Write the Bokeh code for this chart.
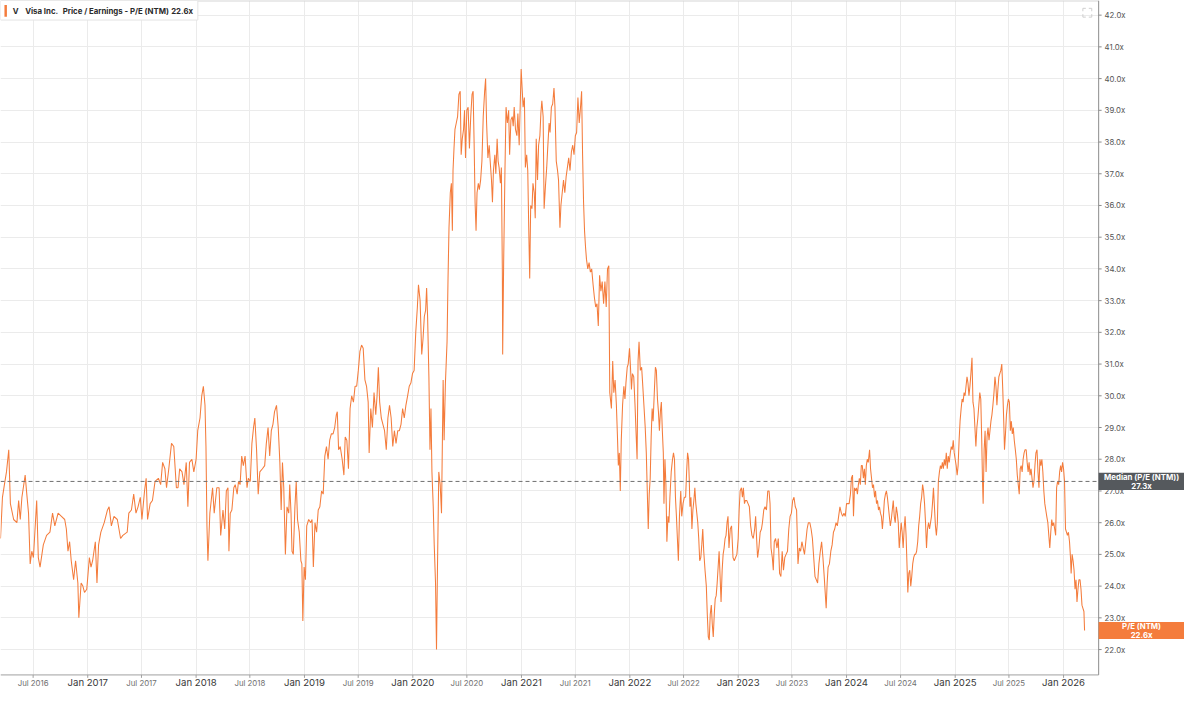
from datetime import datetime
from bokeh.plotting import figure
from bokeh.models import Range1d, FixedTicker, Grid
from bokeh.core.properties import value
from bokeh.embed import file_html
from bokeh.resources import INLINE

# ---------------- data (decimal year, P/E NTM) ----------------
pe_2016_2018 = [
    (2016.197, 25.5), (2016.215, 26.8), (2016.233, 27.2), (2016.252, 27.6), (2016.273, 28.3),
    (2016.288, 26.6), (2016.318, 26.1), (2016.348, 26.0), (2016.364, 26.7), (2016.379, 26.1),
    (2016.394, 26.8), (2016.424, 27.5), (2016.439, 26.9), (2016.455, 26.3), (2016.470, 24.7),
    (2016.485, 25.1), (2016.500, 24.9), (2016.530, 26.7), (2016.545, 24.9), (2016.561, 24.6),
    (2016.591, 25.3), (2016.621, 25.6), (2016.652, 25.7), (2016.676, 26.3), (2016.697, 25.9),
    (2016.727, 26.3), (2016.758, 26.2), (2016.788, 26.1), (2016.803, 25.8), (2016.818, 25.1),
    (2016.833, 25.4), (2016.848, 24.8), (2016.870, 24.2), (2016.888, 24.8), (2016.909, 24.1),
    (2016.918, 23.0), (2016.939, 24.1), (2016.955, 24.0), (2016.970, 23.8), (2016.991, 23.9),
    (2017.015, 24.9), (2017.030, 24.6), (2017.045, 24.8), (2017.070, 25.4), (2017.085, 24.1),
    (2017.100, 25.3), (2017.121, 25.7), (2017.152, 26.0), (2017.182, 26.4), (2017.197, 26.5),
    (2017.218, 25.9), (2017.242, 26.2), (2017.273, 26.1), (2017.303, 25.5), (2017.324, 25.6),
    (2017.364, 25.7), (2017.379, 26.3), (2017.403, 26.4), (2017.424, 26.9), (2017.445, 26.3),
    (2017.464, 26.5), (2017.485, 26.8), (2017.500, 26.1), (2017.524, 27.0), (2017.539, 27.4),
    (2017.552, 26.1), (2017.576, 26.6), (2017.597, 26.7), (2017.621, 27.3), (2017.652, 27.4),
    (2017.673, 27.2), (2017.691, 27.9), (2017.712, 27.7), (2017.727, 27.1), (2017.748, 27.7),
    (2017.773, 28.5), (2017.794, 28.4), (2017.818, 27.1), (2017.833, 27.1), (2017.848, 27.7),
    (2017.870, 27.6), (2017.888, 27.2), (2017.909, 27.9), (2017.924, 26.5), (2017.939, 27.9),
    (2017.961, 28.0), (2017.979, 27.6), (2018.000, 28.0), (2018.015, 28.9), (2018.036, 29.3),
    (2018.052, 30.0), (2018.067, 30.3), (2018.082, 29.7), (2018.091, 28.4), (2018.100, 25.9),
    (2018.109, 24.8), (2018.127, 26.3), (2018.152, 27.1), (2018.167, 26.3), (2018.191, 27.1),
    (2018.212, 27.1), (2018.227, 25.6),
]

pe_2018_2020 = [
    (2018.248, 26.4), (2018.264, 25.8), (2018.279, 27.0), (2018.294, 27.1), (2018.303, 25.1),
    (2018.315, 26.3), (2018.330, 26.4), (2018.348, 27.1), (2018.361, 27.2), (2018.379, 26.9),
    (2018.391, 27.3), (2018.406, 27.2), (2018.421, 28.1), (2018.436, 27.8), (2018.452, 28.1),
    (2018.470, 27.1), (2018.482, 27.4), (2018.500, 27.3), (2018.515, 28.5), (2018.530, 29.0),
    (2018.542, 29.3), (2018.558, 28.3), (2018.573, 26.9), (2018.588, 27.6), (2018.612, 27.7),
    (2018.633, 27.8), (2018.648, 28.5), (2018.664, 29.0), (2018.679, 28.1), (2018.694, 28.9),
    (2018.709, 29.1), (2018.724, 29.5), (2018.742, 29.7), (2018.758, 29.0), (2018.773, 27.9),
    (2018.785, 26.4), (2018.797, 27.9), (2018.809, 27.1), (2018.824, 25.0), (2018.839, 26.5),
    (2018.855, 26.3), (2018.864, 27.2), (2018.876, 26.3), (2018.885, 25.1), (2018.897, 25.0),
    (2018.912, 26.5), (2018.924, 27.3), (2018.936, 26.1), (2018.952, 25.7), (2018.967, 24.8),
    (2018.976, 24.7), (2018.985, 22.9), (2018.997, 24.6), (2019.009, 24.2), (2019.021, 25.9),
    (2019.039, 26.1), (2019.058, 26.0), (2019.070, 26.1), (2019.082, 24.6), (2019.097, 26.0),
    (2019.112, 25.7), (2019.127, 26.4), (2019.142, 26.5), (2019.158, 27.0), (2019.173, 26.9),
    (2019.188, 28.1), (2019.203, 28.4), (2019.218, 28.0), (2019.233, 28.6), (2019.248, 28.8),
    (2019.264, 28.8), (2019.279, 29.0), (2019.294, 29.4), (2019.303, 29.5), (2019.315, 28.3),
    (2019.330, 28.4), (2019.348, 28.0), (2019.364, 27.5), (2019.376, 28.7), (2019.391, 28.6),
    (2019.406, 27.7), (2019.421, 29.6), (2019.436, 30.0), (2019.452, 29.8), (2019.467, 30.3),
    (2019.482, 30.3), (2019.497, 30.8), (2019.512, 31.4), (2019.527, 31.6), (2019.542, 31.5),
    (2019.558, 30.5), (2019.573, 30.3), (2019.588, 29.8), (2019.597, 28.2), (2019.612, 29.6),
    (2019.627, 29.0), (2019.642, 30.1), (2019.658, 29.4), (2019.670, 30.0), (2019.682, 30.9),
    (2019.694, 29.8), (2019.709, 29.3), (2019.724, 29.1), (2019.739, 28.9), (2019.755, 28.3),
    (2019.770, 29.3), (2019.785, 29.7), (2019.800, 29.3), (2019.815, 28.4), (2019.830, 28.9),
    (2019.845, 28.5), (2019.861, 28.9), (2019.876, 28.9), (2019.891, 29.1), (2019.906, 29.6),
    (2019.921, 29.3), (2019.936, 29.7), (2019.952, 30.0), (2019.967, 30.3), (2019.982, 30.4),
    (2019.997, 30.7), (2020.012, 30.8), (2020.027, 32.0), (2020.042, 32.8), (2020.052, 33.5),
    (2020.067, 33.0), (2020.082, 31.3), (2020.094, 31.8), (2020.106, 32.5), (2020.118, 32.7),
    (2020.127, 33.4), (2020.136, 32.5), (2020.148, 30.6), (2020.158, 28.3), (2020.167, 29.6),
    (2020.176, 27.6), (2020.188, 26.5), (2020.197, 25.3), (2020.209, 24.1), (2020.218, 22.0),
    (2020.227, 24.6), (2020.239, 27.6), (2020.252, 27.2), (2020.264, 26.3), (2020.279, 30.5),
]

pe_2020_2021 = [
    (2020.288, 28.6), (2020.300, 30.4), (2020.315, 31.7), (2020.324, 33.7), (2020.333, 35.3),
    (2020.345, 36.4), (2020.355, 36.7), (2020.364, 35.2), (2020.370, 37.1), (2020.379, 37.8),
    (2020.388, 38.4), (2020.400, 38.6), (2020.412, 38.8), (2020.424, 39.5), (2020.436, 39.6),
    (2020.445, 37.6), (2020.455, 38.1), (2020.467, 38.4), (2020.476, 39.0), (2020.485, 37.5),
    (2020.497, 39.0), (2020.509, 39.1), (2020.521, 37.8), (2020.533, 38.8), (2020.545, 39.5),
    (2020.555, 39.6), (2020.564, 38.0), (2020.573, 36.1), (2020.582, 35.2), (2020.591, 36.4),
    (2020.603, 36.7), (2020.612, 36.5), (2020.624, 36.8), (2020.636, 37.4), (2020.648, 38.8),
    (2020.661, 39.6), (2020.670, 40.0), (2020.679, 38.6), (2020.691, 37.5), (2020.703, 37.9),
    (2020.712, 37.4), (2020.724, 36.8), (2020.733, 36.1), (2020.742, 37.1), (2020.755, 37.6),
    (2020.764, 37.0), (2020.776, 38.1), (2020.785, 37.4), (2020.794, 37.2), (2020.806, 36.7),
    (2020.815, 37.2), (2020.824, 33.9), (2020.827, 31.3), (2020.836, 34.2), (2020.848, 37.1),
    (2020.858, 39.1), (2020.870, 38.6), (2020.882, 39.0), (2020.891, 37.6), (2020.903, 38.7),
    (2020.915, 38.8), (2020.924, 38.5), (2020.933, 39.1), (2020.945, 38.4), (2020.958, 38.2),
    (2020.967, 38.9), (2020.979, 37.9), (2020.988, 39.1), (2020.997, 40.3), (2021.006, 39.7),
    (2021.015, 39.1), (2021.027, 39.4), (2021.036, 37.2), (2021.048, 37.6), (2021.058, 37.1),
    (2021.067, 35.3), (2021.076, 33.7), (2021.085, 36.0), (2021.097, 35.9), (2021.106, 36.7),
    (2021.118, 36.4), (2021.127, 35.6), (2021.136, 38.1), (2021.148, 36.8), (2021.158, 37.9),
    (2021.170, 38.2), (2021.179, 38.9), (2021.188, 39.3), (2021.200, 38.8), (2021.209, 35.9),
    (2021.221, 36.6), (2021.233, 37.2), (2021.242, 37.8), (2021.255, 38.6), (2021.264, 38.3),
    (2021.276, 39.1), (2021.288, 39.2), (2021.300, 39.7), (2021.309, 39.1), (2021.321, 37.4),
    (2021.333, 37.1), (2021.342, 36.8), (2021.355, 35.3), (2021.364, 36.0), (2021.376, 36.4),
    (2021.388, 36.8), (2021.400, 36.4), (2021.412, 36.9), (2021.424, 37.2), (2021.436, 37.5),
    (2021.448, 37.1), (2021.461, 37.7), (2021.473, 37.9), (2021.485, 37.6), (2021.497, 38.2),
    (2021.509, 38.3), (2021.521, 39.4), (2021.533, 38.6), (2021.545, 39.1), (2021.555, 39.6),
    (2021.564, 37.6), (2021.573, 36.1), (2021.582, 35.2), (2021.591, 34.7), (2021.600, 34.3),
    (2021.612, 34.0), (2021.624, 34.2), (2021.636, 33.9), (2021.648, 34.0), (2021.661, 33.5),
    (2021.673, 33.1), (2021.685, 32.8), (2021.697, 32.9), (2021.709, 32.2), (2021.721, 33.8),
    (2021.733, 33.3), (2021.745, 33.6), (2021.758, 32.9), (2021.770, 33.6), (2021.782, 32.8),
    (2021.794, 34.0), (2021.806, 34.1),
]

pe_2021_2023 = [
    (2021.815, 30.1), (2021.830, 29.6), (2021.842, 31.1), (2021.852, 30.1), (2021.864, 30.5),
    (2021.876, 29.7), (2021.885, 28.8), (2021.894, 27.8), (2021.903, 28.2), (2021.912, 27.0),
    (2021.921, 28.6), (2021.933, 29.7), (2021.945, 30.3), (2021.955, 29.9), (2021.964, 30.4),
    (2021.976, 30.9), (2021.985, 31.0), (2021.997, 31.5), (2022.006, 30.9), (2022.015, 30.2),
    (2022.024, 30.7), (2022.036, 30.6), (2022.048, 29.7), (2022.058, 28.8), (2022.067, 28.0),
    (2022.076, 31.1), (2022.085, 31.7), (2022.097, 30.8), (2022.109, 30.9), (2022.118, 30.4),
    (2022.130, 29.7), (2022.142, 29.0), (2022.152, 28.2), (2022.161, 27.0), (2022.170, 25.8),
    (2022.179, 26.9), (2022.188, 27.4), (2022.197, 28.7), (2022.206, 29.6), (2022.215, 29.2),
    (2022.227, 30.2), (2022.236, 30.9), (2022.245, 30.8), (2022.255, 29.9), (2022.264, 29.5),
    (2022.273, 28.9), (2022.282, 29.5), (2022.291, 29.8), (2022.300, 28.9), (2022.309, 28.2),
    (2022.315, 26.6), (2022.324, 28.0), (2022.333, 27.2), (2022.342, 25.4), (2022.352, 26.2),
    (2022.361, 26.0), (2022.370, 26.8), (2022.382, 27.6), (2022.394, 28.0), (2022.403, 28.2),
    (2022.412, 28.0), (2022.421, 26.8), (2022.430, 26.2), (2022.439, 25.5), (2022.448, 24.8),
    (2022.458, 26.2), (2022.470, 27.0), (2022.479, 26.2), (2022.491, 26.6), (2022.503, 26.8),
    (2022.515, 26.8), (2022.524, 27.6), (2022.533, 28.2), (2022.542, 28.0), (2022.548, 27.4),
    (2022.555, 26.5), (2022.564, 26.8), (2022.573, 25.8), (2022.582, 26.4), (2022.591, 26.7),
    (2022.600, 27.1), (2022.609, 26.6), (2022.618, 26.3), (2022.627, 26.0), (2022.636, 25.5),
    (2022.645, 24.8), (2022.655, 24.9), (2022.664, 25.3), (2022.673, 25.8), (2022.682, 25.1),
    (2022.694, 24.5), (2022.706, 24.0), (2022.715, 23.1), (2022.724, 22.4), (2022.733, 22.3),
    (2022.742, 23.1), (2022.752, 23.4), (2022.761, 22.8), (2022.770, 22.4), (2022.779, 23.1),
    (2022.788, 23.6), (2022.797, 23.7), (2022.806, 24.1), (2022.815, 24.6), (2022.824, 25.1),
    (2022.833, 24.3), (2022.842, 23.5), (2022.852, 24.5), (2022.861, 25.0), (2022.870, 25.2),
    (2022.879, 25.5), (2022.888, 25.6), (2022.897, 26.0), (2022.906, 26.2), (2022.915, 25.2),
    (2022.927, 25.8), (2022.939, 25.9), (2022.952, 24.9), (2022.964, 24.8), (2022.976, 24.9),
    (2022.988, 25.0),
]

pe_2023_2024 = [
    (2023.000, 25.5), (2023.009, 26.4), (2023.018, 27.0), (2023.030, 27.1), (2023.039, 26.8),
    (2023.048, 27.1), (2023.058, 26.6), (2023.067, 26.7), (2023.079, 26.7), (2023.091, 26.6),
    (2023.103, 26.5), (2023.115, 25.9), (2023.127, 25.6), (2023.139, 25.5), (2023.152, 25.8),
    (2023.161, 26.2), (2023.170, 25.5), (2023.179, 24.9), (2023.191, 25.2), (2023.203, 25.7),
    (2023.215, 25.8), (2023.224, 26.0), (2023.236, 26.4), (2023.248, 26.5), (2023.261, 26.4),
    (2023.273, 27.0), (2023.285, 27.0), (2023.294, 26.6), (2023.303, 25.2), (2023.315, 24.9),
    (2023.324, 24.5), (2023.333, 25.4), (2023.345, 25.5), (2023.358, 25.2), (2023.370, 25.5),
    (2023.382, 24.4), (2023.394, 24.3), (2023.406, 25.1), (2023.418, 24.5), (2023.430, 24.9),
    (2023.442, 25.0), (2023.455, 25.1), (2023.467, 25.8), (2023.479, 26.2), (2023.491, 26.3),
    (2023.503, 26.7), (2023.515, 26.8), (2023.527, 26.5), (2023.539, 26.4), (2023.552, 24.7),
    (2023.564, 25.2), (2023.576, 25.1), (2023.588, 25.4), (2023.600, 25.2), (2023.612, 25.0),
    (2023.624, 25.4), (2023.636, 25.8), (2023.648, 26.0), (2023.661, 26.0), (2023.673, 25.8),
    (2023.685, 25.5), (2023.697, 24.9), (2023.709, 24.3), (2023.721, 24.2), (2023.733, 24.1),
    (2023.745, 24.7), (2023.758, 25.1), (2023.770, 25.4), (2023.782, 24.9), (2023.794, 24.3),
    (2023.803, 23.8), (2023.812, 23.3), (2023.821, 24.1), (2023.830, 24.6), (2023.842, 24.7),
    (2023.855, 25.1), (2023.867, 25.3), (2023.879, 25.7), (2023.891, 25.8), (2023.903, 26.0),
    (2023.915, 25.9), (2023.927, 26.2), (2023.939, 26.5), (2023.952, 26.3), (2023.964, 26.2),
    (2023.976, 26.3), (2023.988, 26.2), (2024.000, 26.6),
]

pe_2024_2026 = [
    (2024.024, 26.6), (2024.036, 26.9), (2024.045, 27.4), (2024.055, 27.5), (2024.064, 26.2),
    (2024.073, 27.1), (2024.082, 27.0), (2024.091, 27.1), (2024.100, 26.9), (2024.109, 27.2),
    (2024.118, 27.4), (2024.127, 27.2), (2024.136, 27.8), (2024.145, 27.8), (2024.155, 27.4),
    (2024.164, 27.7), (2024.173, 27.2), (2024.182, 27.8), (2024.191, 28.0), (2024.200, 27.9),
    (2024.212, 28.3), (2024.221, 27.7), (2024.230, 27.4), (2024.239, 27.1), (2024.248, 27.2),
    (2024.258, 26.8), (2024.267, 27.0), (2024.276, 26.6), (2024.285, 26.7), (2024.294, 26.4),
    (2024.303, 26.5), (2024.312, 26.3), (2024.321, 26.2), (2024.330, 25.8), (2024.339, 26.2),
    (2024.348, 26.7), (2024.358, 26.9), (2024.367, 27.0), (2024.376, 26.8), (2024.385, 26.5),
    (2024.394, 26.2), (2024.403, 25.9), (2024.412, 26.1), (2024.421, 26.4), (2024.430, 26.7),
    (2024.439, 26.2), (2024.448, 26.0), (2024.458, 26.5), (2024.467, 26.3), (2024.476, 26.0),
    (2024.485, 25.2), (2024.494, 25.6), (2024.503, 26.0), (2024.512, 25.7), (2024.521, 25.2),
    (2024.530, 25.8), (2024.539, 26.2), (2024.548, 25.6), (2024.558, 24.5), (2024.564, 23.8),
    (2024.573, 24.4), (2024.582, 24.5), (2024.591, 24.0), (2024.600, 24.3), (2024.609, 24.7),
    (2024.618, 24.9), (2024.627, 25.0), (2024.636, 25.0), (2024.645, 25.1), (2024.655, 25.4),
    (2024.664, 25.9), (2024.673, 26.2), (2024.682, 26.6), (2024.691, 26.8), (2024.700, 27.2),
    (2024.709, 27.0), (2024.718, 26.6), (2024.727, 26.0), (2024.736, 25.2), (2024.745, 25.8),
    (2024.755, 26.0), (2024.764, 25.8), (2024.773, 26.0), (2024.782, 26.2), (2024.791, 26.6),
    (2024.800, 27.1), (2024.809, 26.5), (2024.818, 25.9), (2024.827, 25.6), (2024.836, 26.0),
    (2024.845, 27.3), (2024.855, 27.6), (2024.864, 27.8), (2024.873, 27.7), (2024.882, 27.9),
    (2024.891, 27.7), (2024.900, 28.0), (2024.909, 27.8), (2024.918, 28.2), (2024.927, 27.7),
    (2024.936, 28.1), (2024.945, 27.9), (2024.955, 28.2), (2024.964, 28.4), (2024.973, 28.3),
    (2024.982, 28.6), (2024.991, 28.2), (2025.000, 28.0), (2025.009, 27.8), (2025.018, 27.5),
    (2025.027, 27.8), (2025.036, 28.6), (2025.045, 29.2), (2025.055, 29.6), (2025.064, 29.9),
    (2025.073, 29.8), (2025.082, 30.1), (2025.091, 30.0), (2025.100, 30.3), (2025.109, 30.6),
    (2025.118, 30.4), (2025.127, 30.0), (2025.136, 30.3), (2025.145, 30.7), (2025.155, 31.2),
    (2025.164, 29.8), (2025.173, 29.6), (2025.182, 29.0), (2025.191, 28.4), (2025.200, 29.0),
    (2025.209, 29.3), (2025.218, 29.7), (2025.227, 30.1), (2025.236, 29.9), (2025.245, 28.6),
    (2025.252, 27.3), (2025.258, 26.6), (2025.267, 28.3), (2025.276, 28.9), (2025.285, 27.6),
    (2025.294, 28.7), (2025.303, 29.0), (2025.312, 28.6), (2025.321, 28.9), (2025.330, 29.2),
    (2025.339, 29.4), (2025.348, 29.7), (2025.358, 30.1), (2025.367, 30.6), (2025.376, 30.3),
    (2025.385, 29.7), (2025.394, 30.2), (2025.403, 30.6), (2025.412, 30.7), (2025.421, 30.8),
    (2025.430, 31.0), (2025.439, 30.2), (2025.448, 29.2), (2025.455, 28.3), (2025.464, 28.8),
    (2025.473, 29.4), (2025.482, 29.7), (2025.491, 29.9), (2025.500, 29.8), (2025.509, 28.9),
    (2025.518, 29.2), (2025.527, 28.8), (2025.536, 29.0), (2025.545, 28.6), (2025.555, 28.3),
    (2025.564, 28.0), (2025.573, 27.5), (2025.582, 27.2), (2025.591, 26.9), (2025.600, 27.7),
    (2025.609, 27.8), (2025.618, 27.6), (2025.627, 28.0), (2025.636, 28.2), (2025.645, 28.3),
    (2025.655, 28.3), (2025.664, 27.9), (2025.673, 27.6), (2025.682, 27.9), (2025.691, 27.5),
    (2025.700, 27.7), (2025.709, 27.4), (2025.718, 27.1), (2025.727, 27.3), (2025.736, 27.8),
    (2025.745, 28.2), (2025.755, 28.3), (2025.764, 27.6), (2025.773, 27.1), (2025.782, 28.0),
    (2025.791, 27.8), (2025.800, 28.0), (2025.809, 27.6), (2025.818, 27.0), (2025.827, 26.6),
    (2025.836, 26.4), (2025.845, 26.2), (2025.855, 26.0), (2025.864, 25.6), (2025.873, 25.2),
    (2025.882, 25.7), (2025.891, 26.1), (2025.900, 25.9), (2025.909, 26.0), (2025.918, 25.8),
    (2025.927, 25.6), (2025.936, 27.1), (2025.945, 27.3), (2025.955, 27.2), (2025.964, 27.6),
    (2025.973, 27.8), (2025.982, 27.6), (2025.991, 27.9), (2026.000, 27.7), (2026.009, 27.3),
    (2026.018, 25.8), (2026.027, 25.7), (2026.036, 25.6), (2026.045, 25.7), (2026.055, 25.4),
    (2026.064, 24.9), (2026.070, 24.4), (2026.079, 25.0), (2026.088, 24.8), (2026.097, 24.5),
    (2026.106, 23.9), (2026.115, 24.2), (2026.124, 23.5), (2026.133, 23.9), (2026.142, 24.2),
    (2026.152, 24.2), (2026.161, 23.9), (2026.170, 23.4), (2026.179, 23.3), (2026.188, 23.2),
    (2026.194, 22.6),
]

median_pe = 27.3
last_pe = 22.6
series_name = "P/E (NTM)"
legend_ticker = "V"
legend_company = "Visa Inc."
legend_metric = "Price / Earnings - P/E (NTM)"
y_tick_values = list(range(22, 43))
jan_years = list(range(2017, 2027))
jul_years = list(range(2016, 2026))

# ---------------- helpers ----------------
def dy(y):
    yr = int(y)
    s = datetime(yr, 1, 1)
    e = datetime(yr + 1, 1, 1)
    return s + (e - s) * (y - yr)

EPOCH = datetime(1970, 1, 1)
def ms(d):
    return (d - EPOCH).total_seconds() * 1000.0

xs, ys = [], []
for seg in [pe_2016_2018, pe_2018_2020, pe_2020_2021, pe_2021_2023, pe_2023_2024, pe_2024_2026]:
    for t, v in seg:
        xs.append(ms(dy(t)))
        ys.append(v)

FONT = "Inter"
ORANGE = "#f47c3c"
W, H = 1184, 693                 # canvas (page is 1200x709 minus margins)
REF_W, REF_H = 1200, 709         # layout measured on the reference
PLOT_R, PLOT_B = 1113, 690       # right / bottom edge of the plotting area (reference px)

# data window of the plotting area
x0, x1 = ms(dy(2016.197)), ms(dy(2026.324))
y_top, y_bot = 42.462, 21.2
mpx = (x1 - x0) / PLOT_R          # ms per reference px
vpx = (y_top - y_bot) / PLOT_B    # value per reference px

def RX(px):  # reference x-pixel -> data x
    return x0 + px * mpx

def RY(py):  # reference y-pixel -> data y
    return y_top - py * vpx

p = figure(width=W, height=H, x_range=Range1d(x0, RX(REF_W)), y_range=Range1d(RY(REF_H), y_top),
           x_axis_location=None, y_axis_location=None, toolbar_location=None,
           output_backend="svg", min_border=0, background_fill_color="white",
           border_fill_color="white")
p.outline_line_color = None
p.grid.visible = False

jan_ms = [ms(datetime(y, 1, 1)) for y in jan_years]
jul_ms = [ms(datetime(y, 7, 1)) for y in jul_years]
p.add_layout(Grid(dimension=0, ticker=FixedTicker(ticks=jan_ms + jul_ms),
                  grid_line_color="#ebebeb", grid_line_width=1))
p.add_layout(Grid(dimension=1, ticker=FixedTicker(ticks=y_tick_values),
                  grid_line_color="#ebebeb", grid_line_width=1))

# series
p.line(xs, ys, line_color=ORANGE, line_width=1.05)

# median line inside the plotting area
p.line([x0, x1], [median_pe, median_pe], line_color="#707070", line_width=1, line_dash="4 3")

# white panels for the axis areas (cover grid lines)
p.quad(left=[x1], right=[RX(REF_W)], bottom=[RY(REF_H)], top=[y_top],
       fill_color="white", line_color=None)
p.quad(left=[x0], right=[RX(REF_W)], bottom=[RY(REF_H)], top=[y_bot],
       fill_color="white", line_color=None)

# frame lines: top border, bottom axis line, right axis line
p.segment(x0=[x0], y0=[y_top], x1=[x1], y1=[y_top], line_color="#d6d6d6", line_width=2)
p.segment(x0=[x0], y0=[y_bot], x1=[x1], y1=[y_bot], line_color="#a0a0a0", line_width=1)
p.segment(x0=[x1], y0=[y_bot], x1=[x1], y1=[y_top], line_color="#8c8c8c", line_width=1)

# right value axis: ticks + labels
p.segment(x0=[x1] * len(y_tick_values), y0=y_tick_values,
          x1=[RX(PLOT_R + 3)] * len(y_tick_values), y1=y_tick_values,
          line_color="#8c8c8c", line_width=1)
p.text(x=[RX(PLOT_R + 6)] * len(y_tick_values), y=y_tick_values,
       text=[f"{v:.1f}x" for v in y_tick_values], text_align="left", text_baseline="middle",
       text_font=value(FONT), text_font_size="7.8px", text_color="#555555")

# time axis: ticks + labels
all_ticks = jan_ms + jul_ms
p.segment(x0=all_ticks, y0=[y_bot] * len(all_ticks), x1=all_ticks,
          y1=[RY(PLOT_B + 3)] * len(all_ticks), line_color="#a0a0a0", line_width=1)
p.text(x=jan_ms, y=[RY(PLOT_B + 2.5)] * len(jan_ms), text=[f"Jan {y}" for y in jan_years],
       text_align="center", text_baseline="top", text_font=value(FONT),
       text_font_size="9.6px", text_color="#383838")
p.text(x=jul_ms, y=[RY(PLOT_B + 3.5)] * len(jul_ms), text=[f"Jul {y}" for y in jul_years],
       text_align="center", text_baseline="top", text_font=value(FONT),
       text_font_size="7.8px", text_color="#707070")

# right-side value boxes
def side_box(val, color, line1, line2):
    p.quad(left=[x1], right=[RX(REF_W)], bottom=[val - 8.8 * vpx], top=[val + 8.8 * vpx],
           fill_color=color, line_color=None)
    cx = (x1 + RX(REF_W)) / 2
    p.text(x=[cx, cx], y=[val + 4.2 * vpx, val - 4.6 * vpx], text=[line1, line2],
           text_align="center", text_baseline="middle", text_font=value(FONT),
           text_font_size="7.8px", text_font_style="bold", text_color="white")

side_box(median_pe, "#55595d", f"Median ({series_name})", f"{median_pe:.1f}x")
side_box(last_pe, ORANGE, series_name, f"{last_pe:.1f}x")

# legend box (top-left)
p.quad(left=[x0], right=[RX(200)], bottom=[RY(20)], top=[y_top],
       fill_color="white", line_color="#e4e4e4", line_width=1)
p.quad(left=[RX(4)], right=[RX(6.5)], bottom=[RY(16.5)], top=[RY(4.5)],
       fill_color=ORANGE, line_color=None)
p.text(x=[RX(12.5), RX(25), RX(63), RX(173)], y=[RY(10.5)] * 4,
       text=[legend_ticker, legend_company, legend_metric, f"{last_pe:.1f}x"],
       text_align="left", text_baseline="middle", text_font=value(FONT),
       text_font_size="7.8px", text_font_style="bold", text_color="#2a2a2a")

# small "expand" icon at top right of the plotting area (four corner marks)
ix0, ix1, iy0, iy1, arm = 1097, 1106, 8, 17, 3
p.multi_line(
    xs=[[RX(ix0), RX(ix0), RX(ix0 + arm)], [RX(ix1 - arm), RX(ix1), RX(ix1)],
        [RX(ix0), RX(ix0), RX(ix0 + arm)], [RX(ix1 - arm), RX(ix1), RX(ix1)]],
    ys=[[RY(iy0 + arm), RY(iy0), RY(iy0)], [RY(iy0), RY(iy0), RY(iy0 + arm)],
        [RY(iy1 - arm), RY(iy1), RY(iy1)], [RY(iy1), RY(iy1), RY(iy1 - arm)]],
    line_color="#cfcfcf", line_width=1)

open("out.html", "w").write(file_html(p, INLINE))
